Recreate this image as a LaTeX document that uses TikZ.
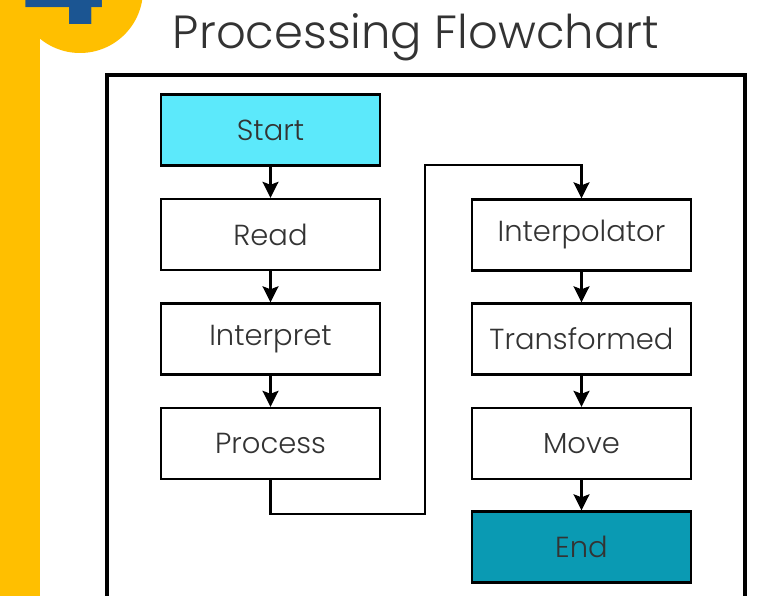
\documentclass[tikz,border=0pt]{standalone}
\usepackage{fontspec}
\IfFontExistsTF{Poppins Light}{\setmainfont{Poppins Light}}{\setmainfont{Poppins}}
\newfontfamily\boldfour{Poppins}[UprightFont=* Bold]
\usetikzlibrary{arrows.meta}
\definecolor{yel}{HTML}{FFBF00}
\definecolor{dblue}{HTML}{1B5592}
\definecolor{startc}{HTML}{5CE9FB}
\definecolor{endc}{HTML}{0A9AB3}
\definecolor{txt}{HTML}{333333}
\tikzset{
  box/.style={draw=black, line width=2.4pt, minimum width=219pt, minimum height=71pt, inner sep=0pt, text=txt, font=\fontsize{29}{32}\selectfont},
  conn/.style={line width=2.4pt, -{Stealth[length=16pt,width=16pt,inset=3pt]}},
}
\begin{document}
\begin{tikzpicture}[x=1pt,y=-1pt]
\useasboundingbox (0,0) rectangle (766,596);
\fill[white] (0,0) rectangle (766,596);
% yellow decor
\fill[yel] (0,0) rectangle (40,596);
\fill[yel] (80,-10) circle (63);
\begin{scope}
\clip (0,0) rectangle (766,596);
\node[text=dblue, font=\boldfour\fontsize{130}{130}\selectfont, anchor=base] (four) at (64,25) {4};
\end{scope}
% title
\node[text=txt, font=\fontsize{46.5}{50}\selectfont] (title) at (416,37) {Processing Flowchart};
% frame
\draw[line width=3.4pt] (107,600) -- (107,75) -- (745,75) -- (745,600);
% boxes
\node[box, fill=startc] (start) at (270.5,130) {Start};
\node[box] (read) at (270.5,234.5) {Read};
\node[box] (interp) at (270.5,339) {Interpret};
\node[box] (proc) at (270.5,443.5) {Process};
\node[box] (inter) at (581.5,235) {Interpolator};
\node[box] (trans) at (581.5,339) {Transformed};
\node[box] (move) at (581.5,443.5) {Move};
\node[box, fill=endc] (end) at (581.5,547) {End};
% connectors
\draw[conn] (start) -- (read);
\draw[conn] (read) -- (interp);
\draw[conn] (interp) -- (proc);
\draw[conn] (proc.south) -- ++(0,34) -| (425,165) -| (inter.north);
\draw[conn] (inter) -- (trans);
\draw[conn] (trans) -- (move);
\draw[conn] (move) -- (end);
\end{tikzpicture}
\end{document}
